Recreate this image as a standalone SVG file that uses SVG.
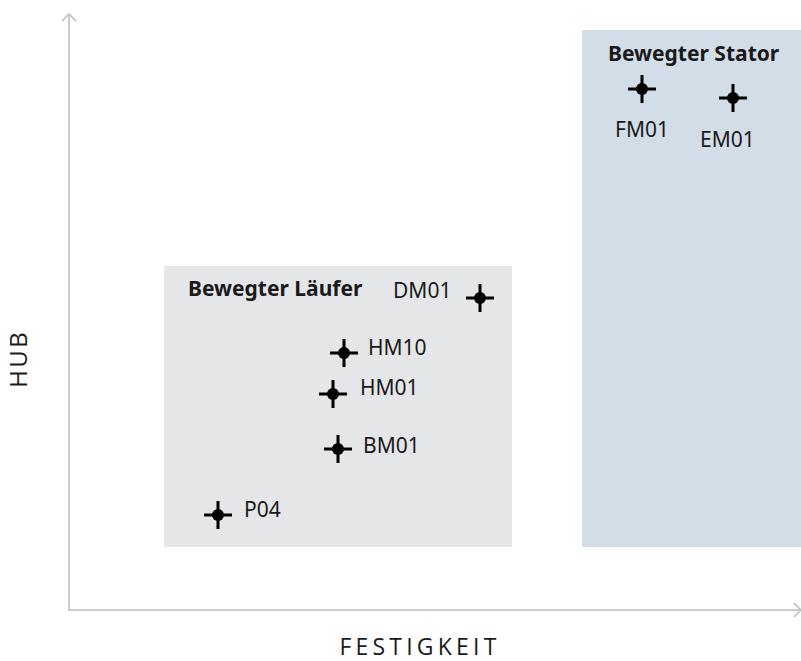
<svg xmlns="http://www.w3.org/2000/svg" width="801" height="661" viewBox="0 0 801 661">
<style>
.lbl{font-family:"Noto Sans","Open Sans",sans-serif;font-size:21px;fill:#1a1a1a}
.ttl{font-family:"Noto Sans","Open Sans",sans-serif;font-size:21px;font-weight:bold;fill:#1a1a1a}
.ax{font-family:"Open Sans","Noto Sans",sans-serif;fill:#1a1a1a}
.axis{stroke:#bdbdbd;stroke-width:1.5;fill:none}
</style>
<defs>
<g id="pt">
<line x1="-14" y1="0" x2="14" y2="0" stroke="#000" stroke-width="3"/>
<line x1="0" y1="-14" x2="0" y2="14" stroke="#000" stroke-width="3"/>
<circle r="6" fill="#000"/>
</g>
</defs>
<rect x="0" y="0" width="801" height="661" fill="#fff"/>
<g id="region-laeufer">
<rect x="164" y="266" width="348" height="281" fill="#e5e6e8"/>
<text class="ttl" x="188" y="296">Bewegter Läufer</text>
</g>
<g id="region-stator">
<rect x="582" y="30" width="219" height="517" fill="#d3dde8"/>
<text class="ttl" x="608" y="61">Bewegter Stator</text>
</g>
<g id="axes">
<polyline class="axis" points="69,14 69,610 800,610"/>
<polyline class="axis" points="62,21 69,14 76,21"/>
<polyline class="axis" points="794,603 801,610 794,617"/>
<text class="ax" font-size="24" transform="translate(27,358.75) rotate(-90)" text-anchor="middle" letter-spacing="2.5">HUB</text>
<text class="ax" font-size="23" x="420" y="655" text-anchor="middle" letter-spacing="4.2">FESTIGKEIT</text>
</g>
<g id="FM01"><use href="#pt" x="642" y="89"/><text class="lbl" x="615" y="137">FM01</text></g>
<g id="EM01"><use href="#pt" x="733" y="98"/><text class="lbl" x="700" y="147">EM01</text></g>
<g id="DM01"><use href="#pt" x="480" y="298"/><text class="lbl" x="393" y="298">DM01</text></g>
<g id="HM10"><use href="#pt" x="344" y="353"/><text class="lbl" x="368" y="355">HM10</text></g>
<g id="HM01"><use href="#pt" x="333" y="394"/><text class="lbl" x="360" y="395">HM01</text></g>
<g id="BM01"><use href="#pt" x="338" y="449"/><text class="lbl" x="363" y="453">BM01</text></g>
<g id="P04"><use href="#pt" x="218" y="515"/><text class="lbl" x="244" y="517">P04</text></g>
</svg>
